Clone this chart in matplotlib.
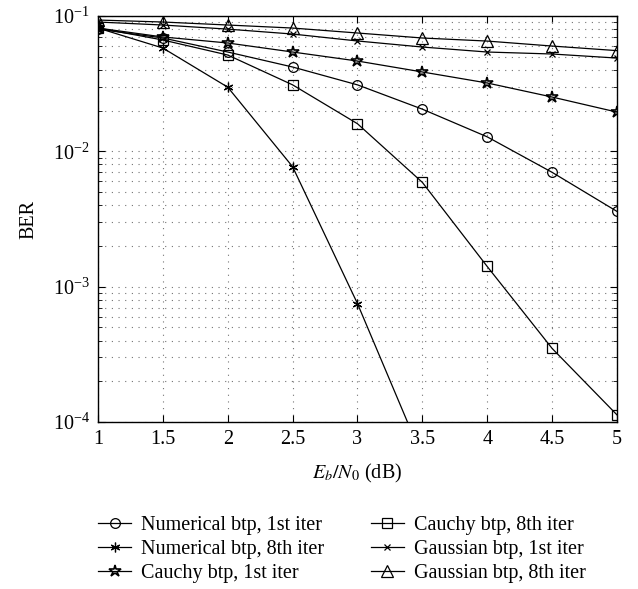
import numpy as np
import matplotlib
matplotlib.use('Agg')
import matplotlib.pyplot as plt
from matplotlib.ticker import LogLocator, NullFormatter

plt.rcParams['font.family'] = ['Liberation Serif', 'DejaVu Serif']
plt.rcParams['mathtext.fontset'] = 'stix'
plt.rcParams['font.size'] = 14

# Eb/N0 in dB
snr = [1, 1.5, 2, 2.5, 3, 3.5, 4, 4.5, 5]

num_1st = [0.080, 0.0688, 0.0542, 0.042, 0.031, 0.0205, 0.0128, 0.0070, 0.0036]
num_8th = [0.0815, 0.058, 0.0298, 0.0077, 0.00075, 0.000055]
cau_1st = [0.0815, 0.070, 0.0632, 0.0542, 0.0465, 0.0386, 0.0320, 0.0252, 0.0195]
cau_8th = [0.0815, 0.0665, 0.0515, 0.031, 0.016, 0.0059, 0.00141, 0.00035, 0.000113]
gau_1st = [0.0903, 0.0858, 0.080, 0.0736, 0.0654, 0.059, 0.0542, 0.0524, 0.0489]
gau_8th = [0.0934, 0.0903, 0.0858, 0.0815, 0.0749, 0.0688, 0.0653, 0.060, 0.0555]

labels = ['Numerical btp, 1st iter', 'Numerical btp, 8th iter',
          'Cauchy btp, 1st iter', 'Cauchy btp, 8th iter',
          'Gaussian btp, 1st iter', 'Gaussian btp, 8th iter']

fig = plt.figure(figsize=(6.38, 5.89), dpi=100)
ax = fig.add_axes([0.1536, 0.2835, 0.8134, 0.6893])

lw = 0.9
ax.plot(snr, num_1st, color='k', lw=lw, marker='o', ms=7, mfc='none', mew=0.9, label=labels[0])
ax.plot(snr[:len(num_8th)], num_8th, color='k', lw=lw, marker=(6, 2, 0), ms=7, mew=0.9, label=labels[1])
ax.plot(snr, cau_1st, color='k', lw=lw, marker='*', ms=9, mfc='none', mew=1.2, label=labels[2])
ax.plot(snr, cau_8th, color='k', lw=lw, marker='s', ms=7, mfc='none', mew=0.9, label=labels[3])
ax.plot(snr, gau_1st, color='k', lw=lw, marker='x', ms=4.5, mew=0.9, label=labels[4])
ax.plot(snr, gau_8th, color='k', lw=lw, marker='^', ms=8, mfc='none', mew=0.9, label=labels[5])

ax.set_yscale('log')
ax.set_xlim(1, 5)
ax.set_ylim(1e-4, 1e-1)
ax.set_xticks(snr)
ax.set_xticklabels(['1', '1.5', '2', '2.5', '3', '3.5', '4', '4.5', '5'])
ax.yaxis.set_major_locator(LogLocator(base=10, numticks=10))
ax.yaxis.set_minor_locator(LogLocator(base=10, subs=np.arange(2, 10), numticks=10))
ax.yaxis.set_minor_formatter(NullFormatter())
ax.tick_params(which='both', direction='in', top=True, right=True, labelsize=14.5)
ax.tick_params(which='major', length=5, pad=6)
ax.tick_params(which='minor', length=3)
ax.grid(True, which='major', axis='both', linestyle=(0, (1, 5)), color='0.45', lw=0.8)
ax.grid(True, which='minor', axis='y', linestyle=(0, (1, 5)), color='0.45', lw=0.8)
for s in ax.spines.values():
    s.set_linewidth(1.0)

ax.set_xlabel(r'$E_b/N_0$ (dB)', fontsize=14.5, labelpad=9)
ax.set_ylabel('BER', fontsize=14.5, labelpad=10)

fig.legend(loc='upper left', bbox_to_anchor=(0.1536, 0.1245), bbox_transform=fig.transFigure,
           ncol=2, frameon=False, fontsize=14.5, handlelength=1.65, handletextpad=0.5,
           columnspacing=2.3, labelspacing=0.25, borderaxespad=0, borderpad=0)

fig.savefig('out.png', dpi=100)
